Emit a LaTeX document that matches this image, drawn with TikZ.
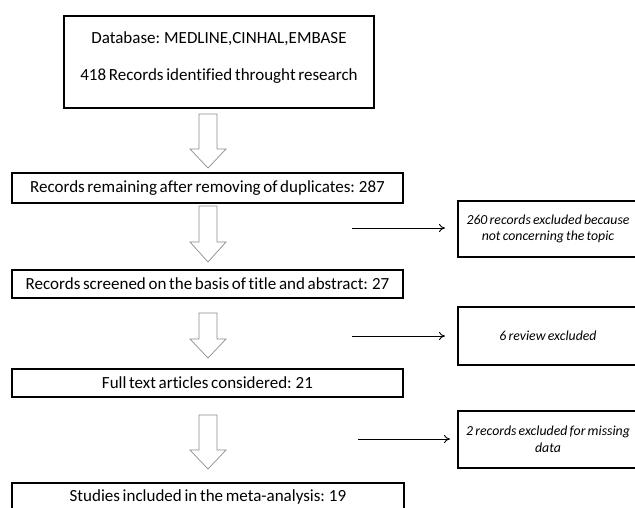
\documentclass[tikz,border=0pt]{standalone}
\usepackage{fontspec}
\setmainfont[Ligatures=NoCommon,WordSpace=0.7]{Carlito}
\usetikzlibrary{arrows.meta,calc}
\begin{document}
\begin{tikzpicture}[x=1pt,y=1pt,
  mainbox/.style={draw=black,line width=1.6pt,inner sep=0pt,font=\fontsize{17}{20}\selectfont,align=center},
  sidebox/.style={draw=black,line width=1.6pt,inner sep=0pt,font=\fontsize{13.8}{16.5}\selectfont\itshape,align=center},
  hollow/.style={draw=gray!90,line width=0.7pt,fill=white},
  thinarrow/.style={draw=black,line width=0.9pt,-{To[length=6pt,width=8pt]}}]
\useasboundingbox (0,0) rectangle (635,-507);
\clip (0,0) rectangle (635,-507);
% main boxes
\node[mainbox,minimum width=310pt,minimum height=92pt] (b1) at (219,-62)
  {\parbox[c][92pt][t]{310pt}{\centering\vspace{16pt}Database: MEDLINE,CINHAL,EMBASE\\[17pt]418 Records identified throught research}};
\node[mainbox,minimum width=391pt,minimum height=30pt] (b2) at (207.5,-188)
  {Records remaining after removing of duplicates: 287};
\node[mainbox,minimum width=391pt,minimum height=28pt] (b3) at (207.5,-284)
  {Records screened on the basis of title and abstract: 27};
\node[mainbox,minimum width=391pt,minimum height=28pt] (b4) at (207.5,-383)
  {Full text articles considered: 21};
\node[mainbox,minimum width=392pt,minimum height=28pt] (b5) at (208,-497)
  {Studies included in the meta-analysis: 19};
% side boxes
\node[sidebox,minimum width=180pt,minimum height=56pt] (s1) at (548,-229)
  {260 records excluded because\\not concerning the topic};
\node[sidebox,minimum width=180pt,minimum height=58pt] (s2) at (548,-336)
  {6 review excluded};
\node[sidebox,minimum width=180pt,minimum height=57pt] (s3) at (548,-439.5)
  {2 records excluded for missing\\data};
% hollow block arrows (x centre 208)
\newcommand{\blockarrow}[3]{%
  \draw[hollow] (199,-#1) -- (217,-#1) -- (217,-#2) -- (226,-#2) -- (208,-#3)
    -- (190,-#2) -- (199,-#2) -- cycle;}
\blockarrow{114}{149}{168}
\blockarrow{206}{242}{262}
\blockarrow{313}{339}{358}
\blockarrow{415}{450}{469}
% thin arrows
\coordinate (a1s) at (352,-228); \coordinate (a1e) at (445,-228);
\coordinate (a2s) at (352,-336); \coordinate (a2e) at (445,-336);
\coordinate (a3s) at (358,-439); \coordinate (a3e) at (450,-439);
\draw[thinarrow] (a1s) -- (a1e);
\draw[thinarrow] (a2s) -- (a2e);
\draw[thinarrow] (a3s) -- (a3e);
\end{tikzpicture}
\end{document}
